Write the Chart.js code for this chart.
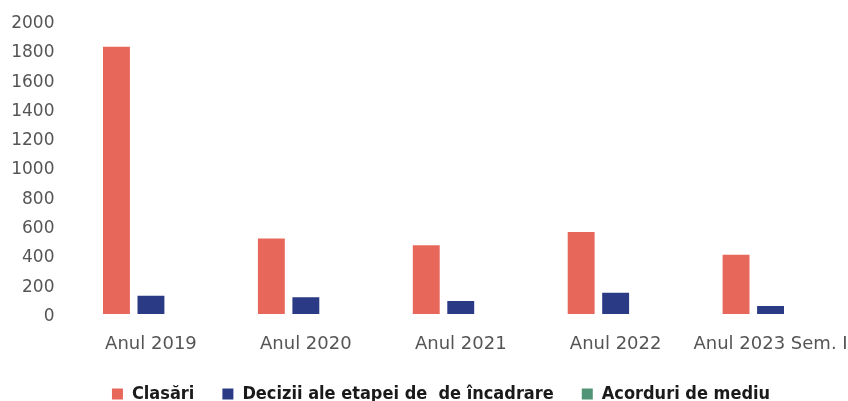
<!DOCTYPE html>
<html><head><meta charset="utf-8">
<script src="https://cdn.jsdelivr.net/npm/chart.js@4.4.0/dist/chart.umd.min.js"></script>
<style>
html,body{margin:0;padding:0;background:#fff;overflow:hidden;width:848px;height:401px;}
#wrap{position:absolute;left:0;top:0;width:848px;height:413px;}
</style></head><body>
<div id="wrap"><canvas id="c"></canvas></div>
<script>
const categories = ["Anul 2019", "Anul 2020", "Anul 2021", "Anul 2022", "Anul 2023 Sem. I"];
const clasari = [1825, 515, 470, 560, 405];
const decizii = [125, 115, 88, 145, 55];
const acorduri = [0, 0, 0, 0, 0];
const seriesNames = ["Clasări", "Decizii ale etapei de  de încadrare", "Acorduri de mediu"];
const yTicks = [0, 200, 400, 600, 800, 1000, 1200, 1400, 1600, 1800, 2000];

const colors = ["#E8675B", "#2B3A85", "#4F9474"];
const series = [clasari, decizii, acorduri];

const adjust = {
  id: 'adjust',
  afterLayout(chart) {
    const x = chart.scales.x;
    x.bottom = chart.height;
    const lg = chart.legend;
    lg.left += 17; lg.right += 17;
  }
};

new Chart(document.getElementById('c'), {
  type: 'bar',
  data: {
    labels: categories,
    datasets: series.map((d, i) => ({
      label: seriesNames[i], data: d, backgroundColor: colors[i], borderWidth: 0,
      categoryPercentage: 0.668, barPercentage: 0.78
    }))
  },
  plugins: [adjust],
  options: {
    responsive: true, maintainAspectRatio: false, animation: false,
    layout: { padding: { left: 0, right: 0, top: 21, bottom: 0 } },
    plugins: {
      tooltip: { enabled: false },
      legend: {
        position: 'bottom',
        labels: {
          boxWidth: 11, boxHeight: 11, padding: 28, color: '#1a1a1a',
          font: { family: "'DejaVu Sans Condensed', 'DejaVu Sans', sans-serif", size: 18, weight: 'bold' }
        }
      }
    },
    scales: {
      x: {
        grid: { display: false, drawTicks: false }, border: { display: false },
        ticks: { color: '#555', padding: 20, maxRotation: 0, autoSkip: false,
          font: { family: "'DejaVu Sans', sans-serif", size: 18 } },
        afterFit: s => { s.height = 43; s.paddingRight = 0; s.paddingLeft = 0; s.paddingTop = 0; s.paddingBottom = 0; }
      },
      y: {
        min: 0, max: 2000,
        grid: { display: false, drawTicks: false }, border: { display: false },
        afterBuildTicks: s => { s.ticks = yTicks.map(v => ({ value: v })); },
        ticks: { color: '#555', padding: 19, callback: v => ['', String(v)],
          font: { family: "'DejaVu Sans', sans-serif", size: 17, lineHeight: 0.3 } },
        afterFit: s => { s.width = 73.5; s.paddingTop = 0; s.paddingBottom = 0; s.paddingLeft = 0; s.paddingRight = 0; }
      }
    }
  }
});
</script></body></html>
